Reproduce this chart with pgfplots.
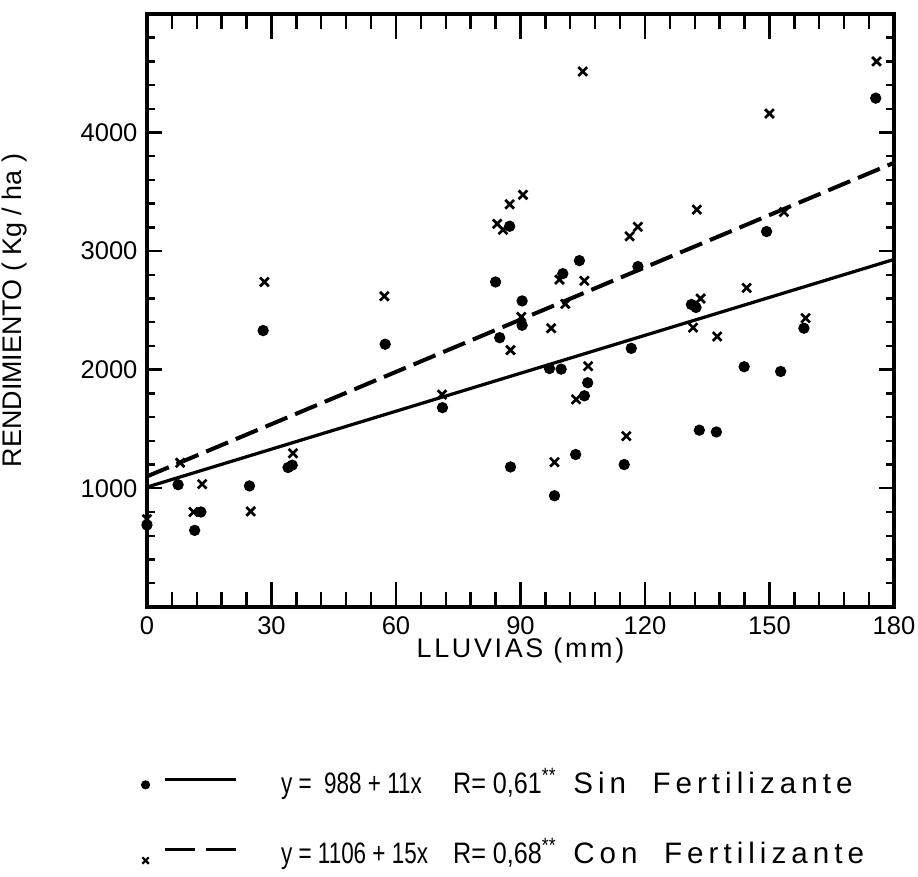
\documentclass[border=0pt]{standalone}
\usepackage{fontspec}
\setmainfont{Liberation Sans}
\usepackage{pgfplots}
\pgfplotsset{compat=1.18}
\usetikzlibrary{calc}

\pgfplotsset{
    marco/.style={
        scale only axis,
        width=9.765cm, height=7.75cm,
        xmin=0, xmax=180, ymin=0, ymax=5000,
        tick align=inside,
        every tick/.style={black, line width=0.9pt},
        axis line style={line width=1.3pt},
        scaled ticks=false,
        tick label style={font=\fontsize{9.5}{11}\selectfont},
        /pgf/number format/assume math mode=true,
        /pgf/number format/1000 sep={},
    },
}

\begin{document}
\begin{tikzpicture}[font=\fontsize{10}{12}\selectfont]
% eje principal: datos y marcas del eje y
\begin{axis}[
    marco,
    xtick=\empty, minor xtick={},
    ytick={1000,2000,3000,4000},
    minor ytick={200,400,...,4800},
    major tick length=0.196cm,
    minor tick length=0.105cm,
    ylabel={RENDIMIENTO ( Kg / ha )},
    ylabel style={at={(axis description cs:-0.177,0.5)}, anchor=center},
    legend style={at={(axis description cs:-0.008,-0.262)}, anchor=north west,
        draw=none, fill=none, inner sep=0pt, row sep=0.4cm, column sep=0.5cm,
        font=\fontsize{11}{13}\selectfont},
    legend cell align=left,
]
% Sin Fertilizante (puntos)
\addplot[only marks, mark=*, mark size=1.9pt, black,
    legend image code/.code={
        \draw[mark=*, mark size=1.5pt, only marks] plot coordinates {(0cm,-0.03cm)};
        \draw[line width=1.2pt, solid] (0.26cm,0.04cm) -- (1.18cm,0.04cm);
    }] coordinates {
    (0,690) (7.5,1030) (11.5,645) (13,800) (24.7,1020) (28,2330)
    (34,1175) (35,1195) (57.4,2215) (71.2,1680) (84,2740) (85,2270)
    (87.4,3210) (87.6,1180) (90.4,2580) (90.4,2375) (97,2010) (99.8,2005)
    (98.2,937) (100.2,2810) (103.3,1285) (104.2,2920) (105.4,1780) (106.2,1890)
    (115,1200) (116.7,2180) (118.3,2870) (131.2,2550) (132.3,2525) (133.1,1490)
    (137.2,1475) (143.9,2025) (149.3,3165) (152.7,1985) (158.3,2350) (175.6,4290)
};
\addlegendentry{\makebox[2.25cm][l]{\scalebox{0.76}[1]{y = \ 988 + 11x}}\makebox[1.57cm][l]{\scalebox{0.85}[1]{R= 0,61\textsuperscript{**}}}{\addfontfeature{LetterSpace=17}Sin\ \ Fertilizante}}

% Con Fertilizante (cruces)
\addplot[only marks, mark=x, mark size=2.3pt, black, line width=1pt,
    legend image code/.code={
        \draw[mark=x, mark size=1.7pt, only marks, line width=0.8pt] plot coordinates {(0cm,-0.1cm)};
        \draw[line width=1.2pt, dash pattern=on 0.39cm off 0.14cm] (0.26cm,0.04cm) -- (1.18cm,0.04cm);
    }] coordinates {
    (0,740) (8,1215) (11.2,800) (13.3,1035) (25,805) (28.3,2740)
    (35.2,1295) (57.2,2620) (71.1,1790) (84.4,3230) (85.8,3180) (87.4,3395)
    (87.6,2165) (90.2,2445) (90.6,3475) (97.4,2350) (98.2,1220) (99.4,2760)
    (100.8,2555) (103.4,1750) (105,4515) (105.4,2750) (106.3,2030) (115.5,1440)
    (116.3,3125) (118.3,3205) (131.6,2355) (132.5,3350) (133.4,2600) (137.4,2280)
    (144.5,2690) (150,4160) (153.5,3330) (158.7,2435) (175.8,4600)
};
\addlegendentry{\makebox[2.25cm][l]{\scalebox{0.76}[1]{y = 1106 + 15x}}\makebox[1.57cm][l]{\scalebox{0.85}[1]{R= 0,68\textsuperscript{**}}}{\addfontfeature{LetterSpace=17}Con\ \ Fertilizante}}

% rectas de regresion
\addplot[black, line width=1.2pt, forget plot] coordinates {(0,1010) (180,2930)};
\addplot[black, line width=1.5pt, dash pattern=on 0.31cm off 0.11cm, forget plot]
    coordinates {(0,1100) (180,3745)};
\end{axis}

% eje superpuesto: marcas del eje x (mas largas)
\begin{axis}[
    marco,
    ytick=\empty, minor ytick={},
    xtick={0,30,...,180},
    minor xtick={6,12,...,174},
    major tick length=0.327cm,
    minor tick length=0.196cm,
    xlabel={{\addfontfeature{LetterSpace=10}LLUVIAS (mm)}},
    xlabel style={at={(axis description cs:0.5,-0.073)}, anchor=center},
]
\addplot[draw=none, forget plot] coordinates {(0,0)};
\end{axis}
\pgfresetboundingbox
\path[use as bounding box]
    ($(current axis.south west)+(-1.921cm,-3.529cm)$) rectangle
    ($(current axis.north east)+(0.314cm,0.183cm)$);
\end{tikzpicture}
\end{document}
